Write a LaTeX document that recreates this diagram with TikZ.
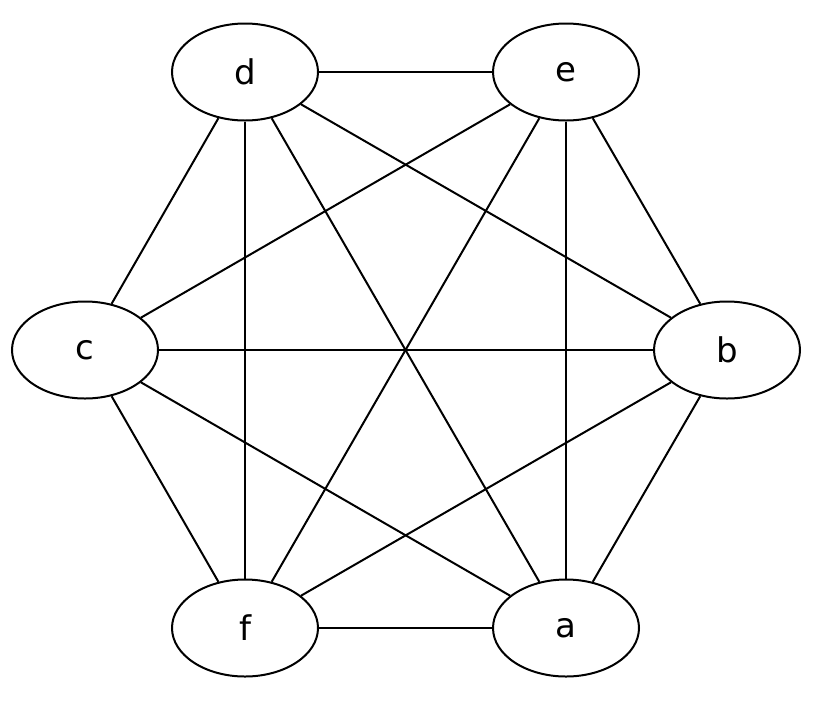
\documentclass[tikz,border=0pt]{standalone}
\usepackage{fontspec}
\setmainfont{DejaVu Sans}
\usetikzlibrary{shapes.geometric}
\tikzset{
  vtx/.style  = {ellipse, draw, line width=2pt, fill=white,
                 minimum width=146pt, minimum height=97pt, inner sep=0pt,
                 font=\fontsize{34}{40}\selectfont},
  edge/.style = {line width=2pt},
}

\begin{document}
\begin{tikzpicture}[x=1pt, y=-1pt]
\useasboundingbox (0,0) rectangle (816,702);

% the six vertices
\node[vtx] (d) at (245,72)  {d};
\node[vtx] (e) at (566,72)  {e};
\node[vtx] (c) at (85,350)  {c};
\node[vtx] (b) at (727,350) {b};
\node[vtx] (f) at (245,628) {f};
\node[vtx] (a) at (566,628) {a};

% every pair is joined
\foreach \u/\v in {d/e, d/c, d/b, d/f, d/a,
                   e/c, e/b, e/f, e/a,
                   c/b, c/f, c/a,
                   b/f, b/a,
                   f/a}
  \draw[edge] (\u) -- (\v);
\end{tikzpicture}
\end{document}
